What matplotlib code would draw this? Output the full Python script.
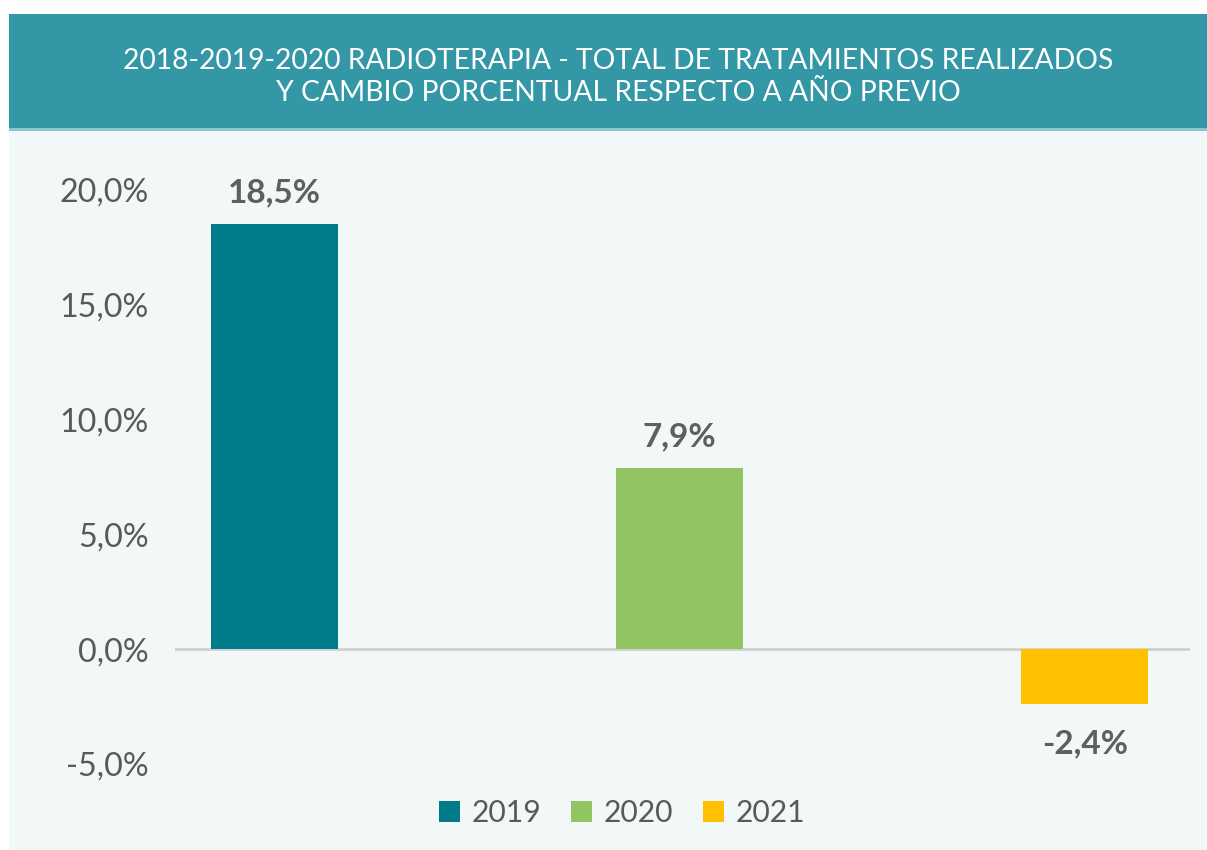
import matplotlib
matplotlib.use("Agg")
import matplotlib.pyplot as plt
from matplotlib.patches import Rectangle

years = ["2019", "2020", "2021"]
values = [18.5, 7.9, -2.4]
labels = ["18,5%", "7,9%", "-2,4%"]
colors = ["#007B8A", "#93C462", "#FFC000"]
yticks = [-5, 0, 5, 10, 15, 20]
ytick_labels = ["-5,0%", "0,0%", "5,0%", "10,0%", "15,0%", "20,0%"]
title = "2018-2019-2020 RADIOTERAPIA - TOTAL DE TRATAMIENTOS REALIZADOS\nY CAMBIO PORCENTUAL RESPECTO A AÑO PREVIO"

plt.rcParams['font.family'] = ['Lato', 'DejaVu Sans']

W, H = 1207, 850
fig = plt.figure(figsize=(W/100, H/100), dpi=100, facecolor="white")

def fx(px): return px / W
def fy(py): return (H - py) / H

# panel background
fig.patches.append(Rectangle((fx(9), fy(850)), fx(1207) - fx(9), fy(130) - fy(850),
                             transform=fig.transFigure, facecolor="#F2F7F8", edgecolor="none", zorder=-2))
# title band
fig.patches.append(Rectangle((fx(9), fy(128)), fx(1207) - fx(9), fy(14) - fy(128),
                             transform=fig.transFigure, facecolor="#3397A6", edgecolor="none", zorder=-2))
fig.patches.append(Rectangle((fx(9), fy(131)), fx(1207) - fx(9), fy(128) - fy(131),
                             transform=fig.transFigure, facecolor="#8CC7D0", edgecolor="none", zorder=-2))
fig.text(fx(618.5), fy(77), title, color="white", fontsize=20.35, ha="center", va="center",
         linespacing=1.25)

ax = fig.add_axes([fx(175), fy(764), fx(1190) - fx(175), fy(190) - fy(764)])
ax.set_zorder(2)
ax.set_facecolor("none")
x = list(range(len(years)))
bars = ax.bar(x, values, width=0.314, color=colors, label=years, zorder=2)
ax.axhline(0, color="#D0D0D0", linewidth=2, zorder=1)
ax.set_ylim(-5, 20)
ax.set_xlim(-0.2457, 2.26)
ax.set_yticks(yticks)
ax.set_yticklabels(ytick_labels)
ax.tick_params(axis="y", length=0, pad=19, labelsize=23.2, labelcolor="#595959")
ax.set_xticks([])
for s in ax.spines.values():
    s.set_visible(False)

for xi, v, lab in zip(x, values, labels):
    if v >= 0:
        ax.annotate(lab, (xi, v), xytext=(0, 12), textcoords="offset points",
                    ha="center", va="bottom", fontsize=24, fontweight="bold",
                    color="#5F5F5F", annotation_clip=False)
    else:
        ax.annotate(lab, (xi, v), xytext=(0, -18), textcoords="offset points",
                    ha="center", va="top", fontsize=24, fontweight="bold",
                    color="#5F5F5F", annotation_clip=False)

handles = [Rectangle((0, 0), 1, 1, facecolor=c, edgecolor="none") for c in colors]
fig.legend(handles, years, loc="center", bbox_to_anchor=(fx(622), fy(813)), ncol=3,
           frameon=False, fontsize=21.7, labelcolor="#595959", handlelength=0.7,
           handleheight=0.7, handletextpad=0.37, columnspacing=1.0)

fig.savefig("out.png", dpi=100, facecolor="white")
